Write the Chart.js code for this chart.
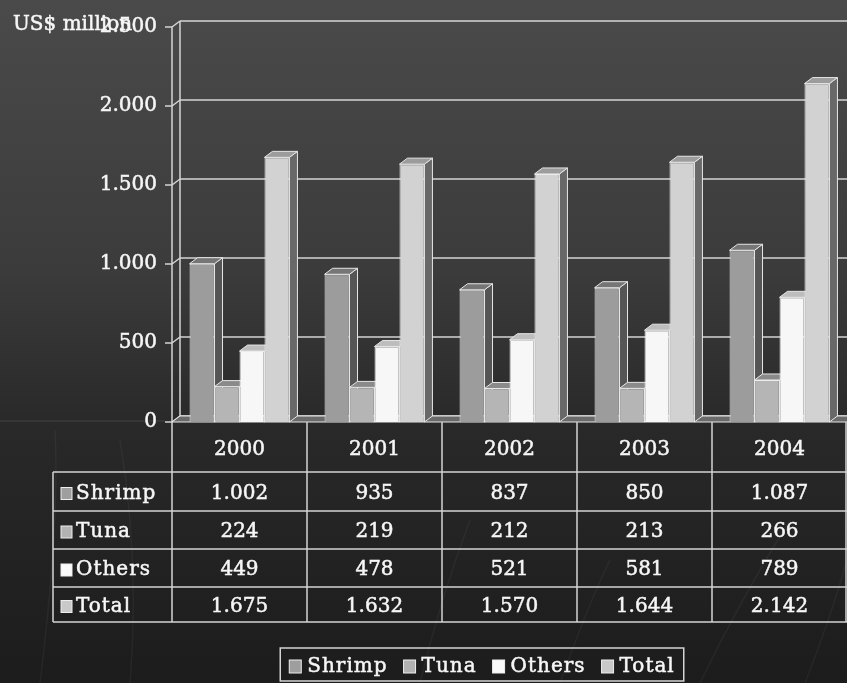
<!DOCTYPE html>
<html>
<head>
<meta charset="utf-8">
<script src="https://cdn.jsdelivr.net/npm/chart.js@4/dist/chart.umd.min.js"></script>
<style>
  body { margin: 0; background: #1e1e1e; }
  #wrap { width: 847px; height: 683px; }
</style>
</head>
<body>
<div id="wrap"><canvas id="chart" width="847" height="683"></canvas></div>
<script>
const years = ['2000', '2001', '2002', '2003', '2004'];
const seriesNames = ['Shrimp', 'Tuna', 'Others', 'Total'];
const shrimp = [1002, 935, 837, 850, 1087];
const tuna = [224, 219, 212, 213, 266];
const others = [449, 478, 521, 581, 789];
const total = [1675, 1632, 1570, 1644, 2142];
const yTicks = [0, 500, 1000, 1500, 2000, 2500];

const FONT = '"DejaVu Serif", "Liberation Serif", serif';
const TEXT = '#f6f6f6';
const front = ['#9c9c9c', '#b5b5b5', '#f7f7f7', '#d2d2d2'];
const sides = ['#555555', '#6a6a6a', '#9a9a9a', '#686868'];
const tops = ['#767676', '#8a8a8a', '#bdbdbd', '#9c9c9c'];
const swatch = ['#9e9e9e', '#b2b2b2', '#fafafa', '#c9c9c9'];
const LINE = '#d4d4d4';
const DX = 8, DY = 6;

function fmt(v) {
    return String(v).replace(/\B(?=(\d{3})+(?!\d))/g, '.');
}

function poly(ctx, pts, fill) {
    ctx.beginPath();
    ctx.moveTo(pts[0][0], pts[0][1]);
    for (let i = 1; i < pts.length; i++) ctx.lineTo(pts[i][0], pts[i][1]);
    ctx.closePath();
    ctx.fillStyle = fill;
    ctx.fill();
    ctx.strokeStyle = '#e6e6e6';
    ctx.lineWidth = 1;
    ctx.stroke();
}

function line(ctx, x1, y1, x2, y2) {
    ctx.beginPath();
    ctx.moveTo(x1, y1);
    ctx.lineTo(x2, y2);
    ctx.stroke();
}

// slightly heavier text, like the original slide font
function text(ctx, s, x, y) {
    ctx.fillStyle = TEXT;
    ctx.fillText(s, x, y);
    ctx.strokeStyle = TEXT;
    ctx.lineWidth = 0.5;
    ctx.strokeText(s, x, y);
}

const backdrop = {
    id: 'backdrop',
    beforeDraw(chart) {
        const ctx = chart.ctx;
        const g = ctx.createLinearGradient(0, 0, 0, chart.height);
        g.addColorStop(0, '#4a4a4a');
        g.addColorStop(0.4, '#3b3b3b');
        g.addColorStop(0.62, '#292929');
        g.addColorStop(1, '#1c1c1c');
        ctx.save();
        ctx.fillStyle = g;
        ctx.fillRect(0, 0, chart.width, chart.height);
        // faint curved strokes of the slide template
        ctx.strokeStyle = 'rgba(255,255,255,0.045)';
        ctx.lineWidth = 1.5;
        const curves = [
            [40, 683, 60, 520, 55, 430], [130, 683, 140, 560, 120, 440],
            [420, 683, 440, 600, 470, 520], [560, 683, 590, 600, 610, 560],
            [700, 683, 740, 600, 790, 520], [805, 683, 830, 620, 847, 560]
        ];
        curves.forEach(c => {
            ctx.beginPath();
            ctx.moveTo(c[0], c[1]);
            ctx.quadraticCurveTo(c[2], c[3], c[4], c[5]);
            ctx.stroke();
        });
        ctx.strokeStyle = 'rgba(255,255,255,0.08)';
        line(ctx, 0, 421, 165, 421);
        ctx.restore();
    }
};

const walls = {
    id: 'walls',
    beforeDatasetsDraw(chart) {
        const ctx = chart.ctx;
        const a = chart.chartArea;
        const y = chart.scales.y;
        ctx.save();
        ctx.strokeStyle = LINE;
        ctx.lineWidth = 1.5;
        yTicks.forEach(v => {
            const yf = y.getPixelForValue(v);
            line(ctx, a.left + DX, yf - DY, a.right, yf - DY);
            line(ctx, a.left - 7, yf, a.left, yf);
            line(ctx, a.left, yf, a.left + DX, yf - DY);
        });
        line(ctx, a.left + DX, y.getPixelForValue(2500) - DY, a.left + DX, a.bottom - DY);
        line(ctx, a.left, y.getPixelForValue(2500), a.left, a.bottom);
        // floor
        poly(ctx, [[a.left, a.bottom], [a.right, a.bottom], [a.right + DX, a.bottom - DY], [a.left + DX, a.bottom - DY]], '#6a6a6a');
        // top and side faces of the bars, left to right
        chart.data.datasets.forEach((ds, i) => {
            chart.getDatasetMeta(i).data.forEach(bar => {
                const l = bar.x - bar.width / 2, r = bar.x + bar.width / 2;
                poly(ctx, [[r, bar.y], [r + DX, bar.y - DY], [r + DX, bar.base - DY], [r, bar.base]], sides[i]);
                poly(ctx, [[l, bar.y], [r, bar.y], [r + DX, bar.y - DY], [l + DX, bar.y - DY]], tops[i]);
            });
        });
        ctx.restore();
    }
};

const tableAndLegend = {
    id: 'tableAndLegend',
    afterDraw(chart) {
        const ctx = chart.ctx;
        const a = chart.chartArea;
        const x = chart.scales.x;
        const half = (a.right - a.left) / years.length / 2;
        const rowsY = [472, 511, 549, 587, 622];
        const values = [shrimp, tuna, others, total];
        ctx.save();
        ctx.strokeStyle = LINE;
        ctx.lineWidth = 1.5;
        // grid of the data table
        for (let i = 0; i <= years.length; i++) {
            const xe = i < years.length ? x.getPixelForValue(i) - half : a.right - 1;
            line(ctx, xe, a.bottom, xe, rowsY[4]);
        }
        rowsY.forEach(ry => line(ctx, 53, ry, a.right, ry));
        line(ctx, 53, rowsY[0], 53, rowsY[4]);

        ctx.font = '20px ' + FONT;
        ctx.textBaseline = 'middle';
        ctx.textAlign = 'center';
        years.forEach((yr, i) => text(ctx, yr, x.getPixelForValue(i), 450));
        values.forEach((arr, r) => {
            const cy = (rowsY[r] + rowsY[r + 1]) / 2 + 2;
            arr.forEach((v, i) => text(ctx, fmt(v), x.getPixelForValue(i), cy));
        });
        ctx.textAlign = 'left';
        ctx.letterSpacing = '1px';
        seriesNames.forEach((name, r) => {
            const cy = (rowsY[r] + rowsY[r + 1]) / 2 + 2;
            ctx.fillStyle = swatch[r];
            ctx.fillRect(61, cy - 6, 11, 12);
            ctx.strokeStyle = '#eeeeee';
            ctx.lineWidth = 1;
            ctx.strokeRect(61, cy - 6, 11, 12);
            text(ctx, name, 76, cy);
        });

        // legend
        const widths = seriesNames.map(n => ctx.measureText(n).width);
        const itemW = widths.map(w => 12 + 6 + w);
        const gap = 16;
        const totalW = itemW.reduce((s, w) => s + w, 0) + gap * (itemW.length - 1);
        let lx = 482 - totalW / 2;
        const ly = 667;
        ctx.strokeStyle = LINE;
        ctx.lineWidth = 1.5;
        ctx.strokeRect(lx - 9, 648, totalW + 18, 33);
        seriesNames.forEach((name, i) => {
            ctx.fillStyle = swatch[i];
            ctx.fillRect(lx, ly - 7, 12, 13);
            ctx.strokeStyle = '#eeeeee';
            ctx.lineWidth = 1;
            ctx.strokeRect(lx, ly - 7, 12, 13);
            text(ctx, name, lx + 18, ly);
            lx += itemW[i] + gap;
        });

        ctx.letterSpacing = '0px';
        text(ctx, 'US$ million', 13, 25);
        ctx.restore();
    }
};

const mk = (label, data, i) => ({
    label: label,
    data: data,
    backgroundColor: front[i],
    borderColor: '#ececec',
    borderWidth: 1,
    categoryPercentage: 0.74,
    barPercentage: 1.0
});

new Chart(document.getElementById('chart'), {
    type: 'bar',
    data: {
        labels: years,
        datasets: [
            mk(seriesNames[0], shrimp, 0),
            mk(seriesNames[1], tuna, 1),
            mk(seriesNames[2], others, 2),
            mk(seriesNames[3], total, 3)
        ]
    },
    plugins: [backdrop, walls, tableAndLegend],
    options: {
        responsive: false,
        animation: false,
        layout: { padding: { top: 26, right: 0, bottom: 261, left: 0 } },
        plugins: {
            legend: { display: false },
            tooltip: { enabled: false }
        },
        scales: {
            x: { display: false },
            y: {
                min: 0,
                max: 2500,
                afterFit: (s) => { s.width = 172; },
                grid: { display: false, drawTicks: false },
                border: { display: false },
                ticks: {
                    stepSize: 500,
                    padding: 15,
                    color: TEXT,
                    textStrokeColor: TEXT,
                    textStrokeWidth: 0.5,
                    font: { family: FONT, size: 20 },
                    callback: (v) => fmt(v)
                }
            }
        }
    }
});
</script>
</body>
</html>
